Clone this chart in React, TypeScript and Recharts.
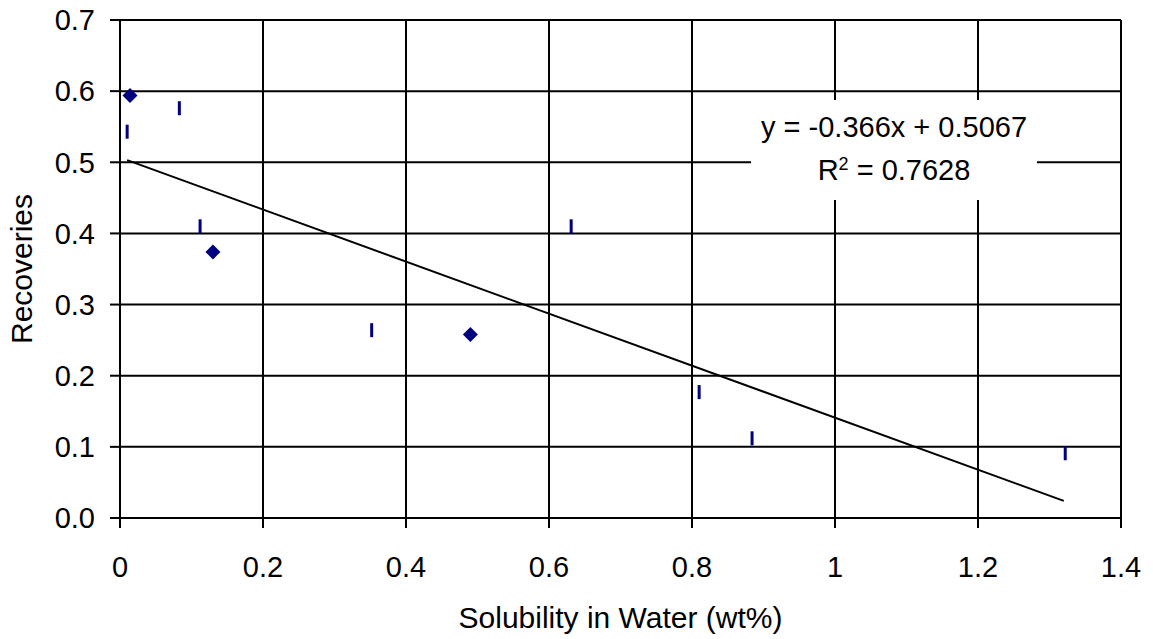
import React from 'react';
import { ScatterChart, Scatter, XAxis, YAxis, CartesianGrid } from 'recharts';

// measured points (diamond markers)
const diamondX = [0.014, 0.13, 0.49];
const diamondY = [0.594, 0.374, 0.258];

// measured points (dash markers)
const dashX = [0.01, 0.083, 0.112, 0.352, 0.631, 0.81, 0.884, 1.322];
const dashY = [0.543, 0.576, 0.41, 0.264, 0.41, 0.177, 0.112, 0.091];

// linear trend line endpoints
const trendX = [0.01, 1.32];
const trendY = [0.503, 0.024];

const xTicks = [0, 0.2, 0.4, 0.6, 0.8, 1, 1.2, 1.4];
const yTicks = [0, 0.1, 0.2, 0.3, 0.4, 0.5, 0.6, 0.7];

const equationText = 'y = -0.366x + 0.5067';
const r2Value = '0.7628';

const FONT = 'Arial, "Liberation Sans", sans-serif';
const NAVY = '#000080';

const diamonds = diamondX.map((x, i) => ({ x, y: diamondY[i] }));
const dashes = dashX.map((x, i) => ({ x, y: dashY[i] }));
const trend = trendX.map((x, i) => ({ x, y: trendY[i] }));

const Diamond = (props: any) => {
  const { cx, cy } = props;
  const r = 7.5;
  return <polygon points={`${cx},${cy - r} ${cx + r},${cy} ${cx},${cy + r} ${cx - r},${cy}`} fill={NAVY} />;
};

const Dash = (props: any) => {
  const { cx, cy } = props;
  return <rect x={cx - 1.5} y={cy - 7} width={3} height={14} fill={NAVY} />;
};

const NoShape = () => <g />;

export default function App() {
  const tickStyle = { fill: '#000', fontSize: 29, fontFamily: FONT };
  return (
    <div style={{ position: 'absolute', left: 0, top: 0, width: 1153, height: 639, background: '#fff' }}>
      <ScatterChart width={1153} height={639} margin={{ top: 20, right: 32, left: 0, bottom: 0 }}>
        <CartesianGrid stroke="#000" strokeWidth={2} />
        <XAxis
          type="number"
          dataKey="x"
          domain={[0, 1.4]}
          ticks={xTicks}
          tickFormatter={(v: number) => String(v)}
          height={121}
          tickSize={10}
          tickMargin={28}
          tick={tickStyle}
          axisLine={{ stroke: '#000', strokeWidth: 2 }}
          tickLine={{ stroke: '#000', strokeWidth: 2 }}
          label={{
            value: 'Solubility in Water (wt%)',
            position: 'insideBottom',
            offset: 11,
            style: { fill: '#000', fontSize: 30, fontFamily: FONT },
          }}
        />
        <YAxis
          type="number"
          dataKey="y"
          domain={[0, 0.7]}
          ticks={yTicks}
          tickFormatter={(v: number) => v.toFixed(1)}
          width={120}
          tickSize={10}
          tickMargin={15}
          tick={tickStyle}
          axisLine={{ stroke: '#000', strokeWidth: 2 }}
          tickLine={{ stroke: '#000', strokeWidth: 2 }}
          label={{
            value: 'Recoveries',
            angle: -90,
            position: 'insideLeft',
            offset: 21,
            style: { fill: '#000', fontSize: 30, fontFamily: FONT, textAnchor: 'middle' },
          }}
        />
        <Scatter data={trend} line={{ stroke: '#000', strokeWidth: 2 }} shape={NoShape} isAnimationActive={false} />
        <Scatter data={dashes} shape={Dash} isAnimationActive={false} />
        <Scatter data={diamonds} shape={Diamond} isAnimationActive={false} />
      </ScatterChart>
      <div
        style={{
          position: 'absolute',
          left: 751,
          top: 100,
          width: 286,
          height: 100,
          background: '#fff',
          fontFamily: FONT,
          fontSize: 29,
          color: '#000',
          textAlign: 'center',
          lineHeight: '43px',
          paddingTop: 6,
          boxSizing: 'border-box',
        }}
      >
        <div>{equationText}</div>
        <div>
          R<sup style={{ fontSize: 18, verticalAlign: 'top', lineHeight: '30px' }}>2</sup> = {r2Value}
        </div>
      </div>
    </div>
  );
}
